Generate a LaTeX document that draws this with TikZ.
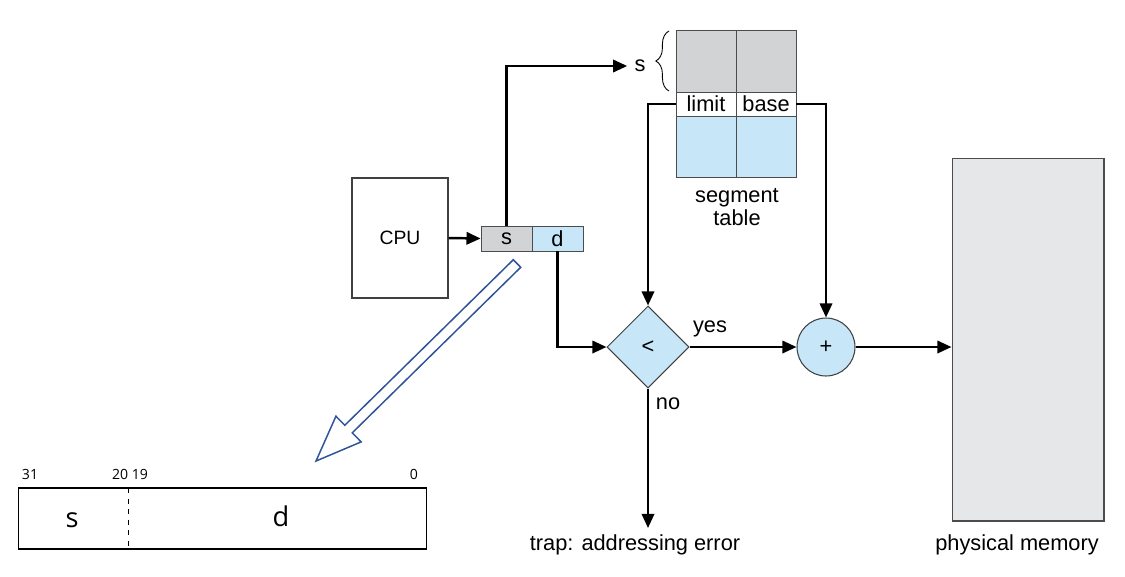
\documentclass[tikz,border=0pt]{standalone}
\usepackage{fontspec}
\setmainfont{Liberation Sans}
\newfontfamily\bitfont{Open Sans}
\usetikzlibrary{shapes.geometric, arrows.meta, positioning, decorations.pathreplacing}
\definecolor{cellgray}{HTML}{D1D3D4}
\definecolor{cellblue}{HTML}{C7E7F8}
\definecolor{memgray}{HTML}{E6E7E9}
\definecolor{zoomblue}{HTML}{2F5597}
\tikzset{
    block/.style={
        rectangle, draw=black!75, line width=0.7pt,
        fill=white, font=\fontsize{11}{13}\selectfont
    },
    cell/.style={
        rectangle, draw=black!70, line width=0.5pt,
        minimum width=1.02cm, minimum height=0.5cm,
        inner sep=0pt, font=\fontsize{12.4}{14}\selectfont
    },
    tcell/.style={
        rectangle, draw=black!70, line width=0.5pt,
        minimum width=1.2cm, inner sep=0pt,
        font=\fontsize{12.4}{14}\selectfont
    },
    wire/.style={draw=black, line width=1.4pt, -{Triangle[length=8pt, width=7pt]}},
    txt/.style={font=\fontsize{12.4}{13}\selectfont, inner sep=1pt},
    bitnum/.style={font=\bitfont\fontsize{8}{9}\selectfont, inner sep=0pt},
    field/.style={font=\bitfont\fontsize{15.5}{17}\selectfont, inner sep=0pt}
}

\begin{document}
\begin{tikzpicture}[x=0.02cm, y=-0.02cm]
\useasboundingbox (0,0) rectangle (1125,576);

% CPU and logical address
\node[block, minimum width=1.92cm, minimum height=2.4cm] (cpu) at (400,238) {CPU};
\node[cell, fill=cellgray] (scell) at (506.5,238.5) {s};
\node[cell, fill=cellblue] (dcell) at (557.5,238.5) {d};
\draw[wire] (cpu.east) -- (scell.west);

% Segment table
\node[tcell, fill=cellgray, minimum height=1.24cm] (g1) at (706,61) {};
\node[tcell, fill=cellgray, minimum height=1.24cm] (g2) at (766,61) {};
\node[tcell, fill=white, minimum height=0.48cm] (limit) at (706,104) {limit};
\node[tcell, fill=white, minimum height=0.48cm] (base) at (766,104) {base};
\node[tcell, fill=cellblue, minimum height=1.22cm] (b1) at (706,146.5) {};
\node[tcell, fill=cellblue, minimum height=1.22cm] (b2) at (766,146.5) {};
\node[txt, align=center] (seglbl) at (737,207) {segment\\table};

\draw[decorate, decoration={brace, amplitude=7.5pt}, line width=0.5pt] (669,91) -- (669,31);
\node[txt, inner xsep=4pt] (sidx) at (640,66) {s};
\draw[wire] (scell.north) |- (sidx.west);

% Limit check
\node[diamond, aspect=1, draw=black!75, line width=0.6pt, fill=cellblue,
      minimum width=1.64cm, minimum height=1.64cm, inner sep=0pt,
      font=\fontsize{12.4}{14}\selectfont] (cmp) at (648,347) {<};
\node[circle, draw=black!75, line width=0.6pt, fill=cellblue,
      minimum size=1.16cm, inner sep=0pt,
      font=\fontsize{12.4}{14}\selectfont] (add) at (826,347) {+};

\draw[wire] (limit.west) -| (cmp.north);
\draw[wire] (base.east) -| (add.north);
\draw[wire] (dcell.south) |- (cmp.west);
\draw[wire] (cmp.east) -- (add.west);
\node[txt] (yes) at (710,329) {yes};

% Physical memory
\node[rectangle, draw=black!70, line width=0.6pt, fill=memgray,
      minimum width=3.04cm, minimum height=7.26cm] (mem) at (1028,339.5) {};
\node[txt] (memlbl) at (1017,545) {physical memory};
\draw[wire] (add.east) -- (add.east -| mem.west);

% Trap
\node[txt] (no) at (668,404) {no};
\coordinate (trapend) at (648,528);
\draw[wire] (cmp.south) -- (trapend);
\node[txt] (trap) at (635,545) {trap: addressing error};

% Zoom arrow to address format
\begin{scope}[shift={(517,263.5)}, rotate=224.5]
\draw[zoomblue, line width=0.85pt, line join=miter, fill=white]
    (0,-5.3) -- (236.2,-5.3) -- (236.2,-18) -- (281.8,0)
    -- (236.2,18) -- (236.2,5.3) -- (0,5.3) -- cycle;
\end{scope}

% Address format
\node[rectangle, draw=black, line width=0.6pt,
      minimum width=8.18cm, minimum height=1.22cm] (word) at (222.5,518.5) {};
\draw[dashed, line width=0.5pt] (128,488) -- (128,549);
\node[bitnum] (b31) at (30,474) {31};
\node[bitnum] (b20) at (130,474) {20 19};
\node[bitnum] (b0) at (414,474) {0};
\node[field] (sfield) at (72,520) {s};
\node[field] (dfield) at (281,516) {d};

\end{tikzpicture}
\end{document}
